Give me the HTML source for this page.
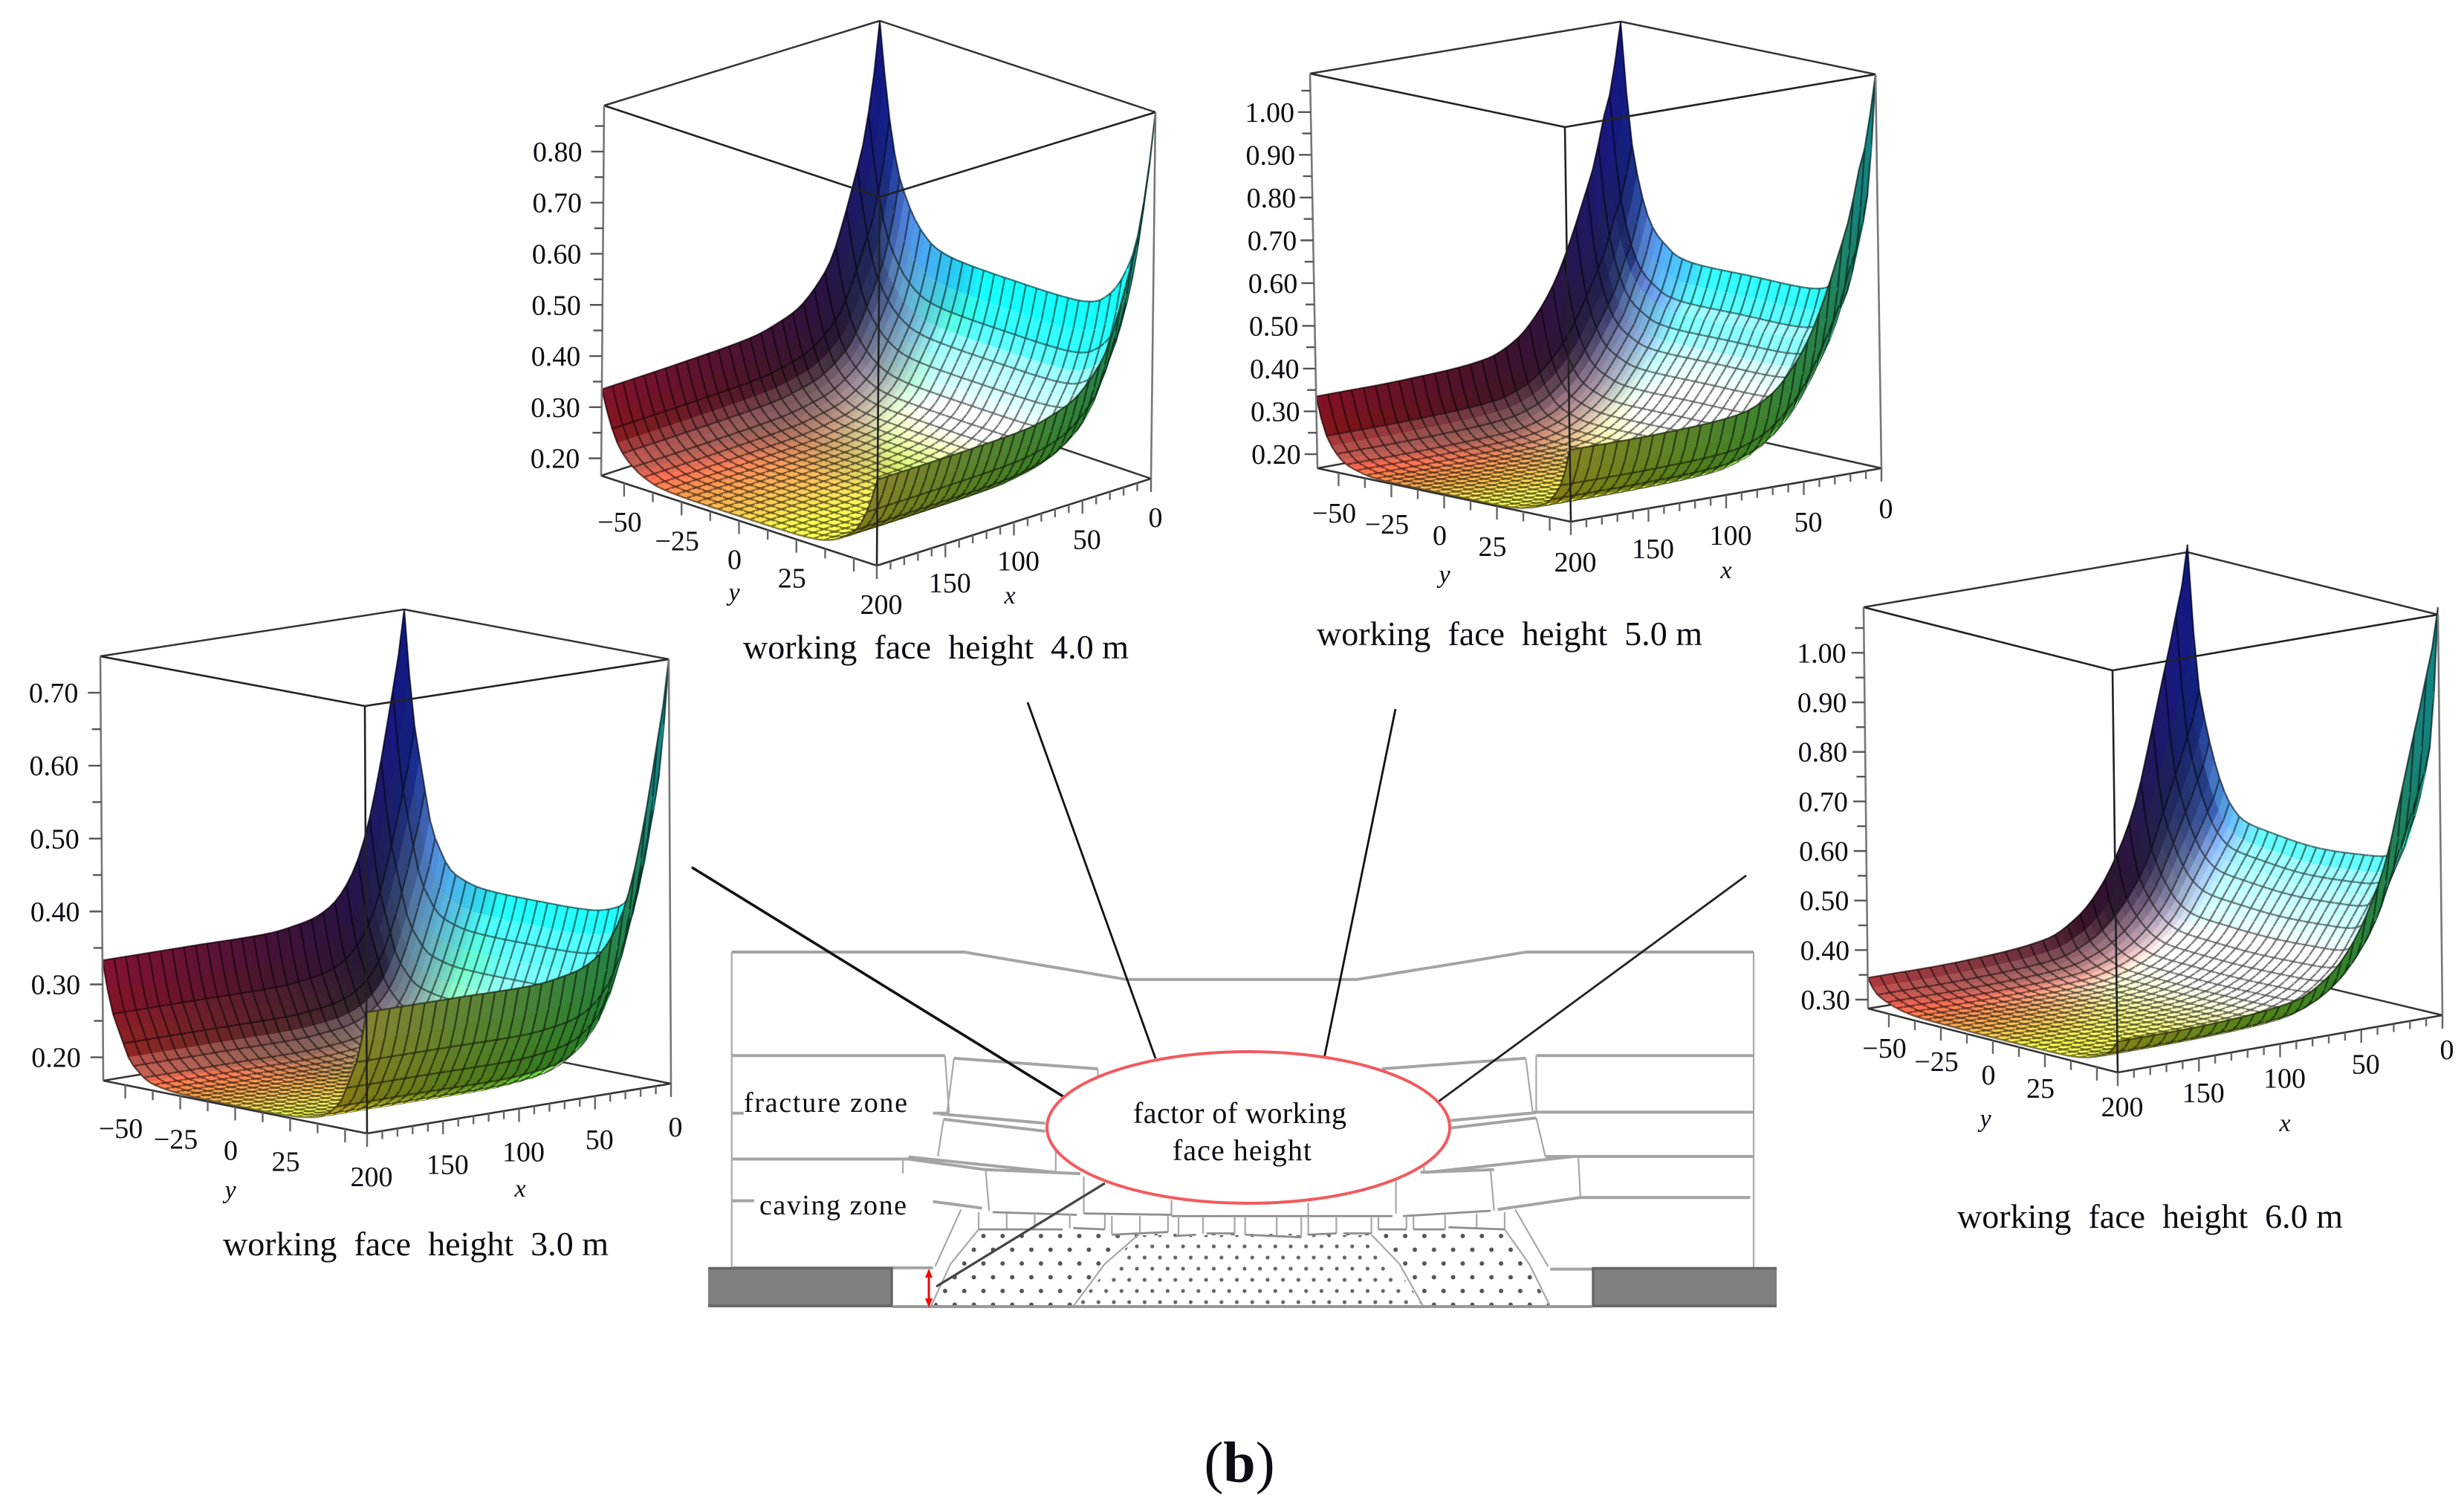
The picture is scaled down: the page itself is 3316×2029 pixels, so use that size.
<!DOCTYPE html>
<html lang="en">
<head>
<meta charset="utf-8">
<title>Working face height surfaces</title>
<style>
html,body{margin:0;padding:0;background:#fff;}
svg{display:block;}
text{font-family:"Liberation Serif",serif;fill:#0c0c14;}
.nss{vector-effect:non-scaling-stroke;fill:none;stroke-linejoin:round;}
.thick{stroke:#a4a4a4;stroke-width:4;}
.thin{stroke:#a8a8a8;stroke-width:2.2;}
.mid{stroke:#8e8e8e;stroke-width:2.8;}
</style>
</head>
<body>
<svg id="figure" xmlns="http://www.w3.org/2000/svg" width="3316" height="2029" viewBox="0 0 3316 2029">
<defs>
<pattern id="dots-outer" patternUnits="userSpaceOnUse" x="1259" y="1663" width="25.8" height="37">
<circle cx="12.9" cy="0" r="3" fill="#555"/><circle cx="12.9" cy="37" r="3" fill="#555"/>
<circle cx="0" cy="18.5" r="3" fill="#555"/><circle cx="25.8" cy="18.5" r="3" fill="#555"/>
</pattern>
<pattern id="dots-inner" patternUnits="userSpaceOnUse" x="1530" y="1662" width="20.7" height="30">
<circle cx="10.35" cy="0" r="2.6" fill="#666"/><circle cx="10.35" cy="30" r="2.6" fill="#666"/>
<circle cx="0" cy="15" r="2.6" fill="#666"/><circle cx="20.7" cy="15" r="2.6" fill="#666"/>
</pattern>
</defs>
<rect width="3316" height="2029" fill="#fff"/>

<g id="plots"></g>

<text x="300" y="1689" font-size="46" textLength="519" lengthAdjust="spacing" xml:space="preserve">working  face  height  3.0 m</text>
<text x="1000" y="886" font-size="46" textLength="519" lengthAdjust="spacing" xml:space="preserve">working  face  height  4.0 m</text>
<text x="1772" y="868" font-size="46" textLength="519" lengthAdjust="spacing" xml:space="preserve">working  face  height  5.0 m</text>
<text x="2634" y="1652" font-size="46" textLength="519" lengthAdjust="spacing" xml:space="preserve">working  face  height  6.0 m</text>

<g id="strata">
<path d="M1317,1658 L2025,1658 L2086,1757 L1256,1757 Z" fill="url(#dots-outer)"/>
<path d="M1533,1662 L1846,1662 L1916,1757 L1447,1757 Z" fill="#fff"/>
<path d="M1533,1662 L1846,1662 L1916,1757 L1447,1757 Z" fill="url(#dots-inner)"/>
<g transform="translate(930,1240) scale(.9439,.357)">
<path class="nss thick" d="M58,115 H390 L620,218 L950,218 L1190,115 H1515"/>
<path class="nss thin" d="M58,115 V1305"/>
<path class="nss thin" d="M1515,115 V1305"/>
<path class="nss thick" d="M58,505 H362 M58,722 H75 M345,722 H368 M58,895 H310 M58,1052 H90 M375,515 L580,555 M355,725 L505,760 M360,745 L505,790 M310,887 L520,945 M310,895 L420,935 M420,935 L555,950 M345,1055 L415,1080 M60,1305 H345"/>
<path class="nss thin" d="M362,505 L368,720 M375,515 L365,720 M360,745 L352,885 M302,890 V950 M420,935 L425,1090 M580,555 V585 M520,840 V945 M560,960 V1100 M685,1050 V1105"/>
<path class="nss thick" d="M1205,505 H1515 M1200,718 H1515 M985,555 L1190,515 M1082,750 L1205,720 M1082,778 L1205,740 M1218,885 H1515 M1050,945 L1260,885 M1040,945 L1145,935 M1268,1040 H1510 M1150,1085 L1268,1040 M1225,1310 H1285"/>
<path class="nss thin" d="M1205,505 V715 M1190,515 L1200,718 M1205,740 L1218,885 M1140,940 L1145,1090 M1265,885 L1268,1038 M880,1060 V1110 M1005,970 V1100 M1045,880 V945"/>
<path class="nss mid" d="M430,1095 L550,1105 M560,1100 L685,1105 M685,1110 L1000,1110 M1015,1110 L1140,1090"/>
<path class="nss thin" d="M410,1095 V1160 M450,1100 V1158 M490,1100 V1158 M540,1100 V1156 M590,1105 V1160 M600,1110 V1180 M640,1110 V1172 M680,1110 V1170 M695,1110 V1185 M730,1112 V1178 M775,1112 V1175 M790,1112 V1180 M835,1112 V1185 M870,1112 V1190 M880,1110 V1180 M920,1112 V1176 M970,1112 V1176 M980,1112 V1160 M1020,1110 V1160 M1030,1110 V1160 M1075,1105 V1160 M1120,1100 V1152 M1160,1095 V1160"/>
<path class="nss mid" d="M410,1160 H530 M545,1155 L590,1160 M600,1180 L680,1170 M690,1185 L720,1180 M735,1175 H775 M790,1180 L870,1190 M880,1180 L920,1175 M930,1175 H970 M980,1160 H1020 M1030,1160 H1075 M1080,1152 L1160,1160"/>
<path class="nss thin" d="M385,1085 L348,1300 M410,1160 L370,1290 L342,1450 M640,1175 L590,1290 L545,1450 M970,1180 L1010,1290 L1045,1455 M1175,1085 L1222,1300 M1160,1160 L1195,1290 L1225,1450"/>
</g>
<rect x="953" y="1705" width="248" height="54" fill="#808080"/>
<rect x="2143" y="1705" width="248" height="54" fill="#808080"/>
<path d="M953,1706.5 H1201 M953,1757 H1201 M2143,1706.5 H2391 M2143,1757 H2391 M1200,1705 V1759 M2144,1705 V1759" stroke="#666" stroke-width="3.5" fill="none"/>
<path d="M1201,1758 H2143" stroke="#999" stroke-width="4" fill="none"/>
<g>
<path d="M1250,1710 V1756" stroke="#f00808" stroke-width="3" fill="none"/>
<path d="M1250,1707 l-5,12 h10 Z M1250,1759 l-5,-12 h10 Z" fill="#f00808"/>
</g>
<line x1="931" y1="1167" x2="1432" y2="1476" stroke="#111" stroke-width="3.6"/>
<line x1="1383" y1="945" x2="1555" y2="1424" stroke="#111" stroke-width="2.8"/>
<line x1="1878" y1="954" x2="1782" y2="1424" stroke="#111" stroke-width="2.8"/>
<line x1="2350" y1="1178" x2="1936" y2="1482" stroke="#222" stroke-width="2.8"/>
<line x1="1487" y1="1592" x2="1260" y2="1731" stroke="#444" stroke-width="3.2"/>
<ellipse cx="1680" cy="1517" rx="271" ry="102" fill="#fff" stroke="#f25a5e" stroke-width="4"/>
<text x="1525" y="1511" font-size="40" textLength="287" lengthAdjust="spacing">factor of working</text>
<text x="1578" y="1561" font-size="40" textLength="187" lengthAdjust="spacing">face height</text>
<text x="1001" y="1496" font-size="38" textLength="220" lengthAdjust="spacing">fracture zone</text>
<text x="1022" y="1634" font-size="38" textLength="198" lengthAdjust="spacing">caving zone</text>
</g>

<text x="1668" y="1994" font-size="78" text-anchor="middle">(<tspan font-weight="bold">b</tspan>)</text>
</svg>

<script>
// Sample positions shared by all surfaces
const xSamples = [0,4,8,12,18,26,34,45,57,70,90,140,200];
const ySamples = [-60,-56,-52,-48,-44,-40,-35,-25,0,25,35,40,44,48,52,56,60];

// Surface height read along y = 0 (one value per xSamples entry)
const zAlongX3m = [.383,.35,.325,.30,.265,.228,.204,.186,.177,.173,.17,.17,.17];
const zAlongX4m = [.465,.41,.37,.338,.306,.266,.233,.21,.194,.186,.179,.176,.175];
const zAlongX5m = [.553,.505,.465,.44,.39,.345,.303,.255,.22,.195,.178,.171,.17];
const zAlongX6m = [.56,.53,.51,.489,.46,.42,.383,.35,.325,.308,.295,.289,.288];

// Surface height read along x = 200 (one value per ySamples entry)
const zAcrossY3m = [.333,.269,.235,.204,.19,.18,.175,.171,.17,.171,.175,.18,.19,.204,.235,.269,.333];
const zAcrossY4m = [.335,.272,.231,.21,.196,.187,.18,.176,.175,.176,.18,.187,.196,.21,.231,.272,.335];
const zAcrossY5m = [.335,.255,.218,.196,.185,.179,.173,.17,.17,.17,.173,.179,.185,.196,.218,.255,.335];
const zAcrossY6m = [.344,.317,.307,.30,.295,.292,.29,.289,.288,.289,.29,.292,.295,.30,.307,.317,.344];

// Axis ranges and tick labels
const zTicks3m = [0.20,0.30,0.40,0.50,0.60,0.70];
const zTicks4m = [0.20,0.30,0.40,0.50,0.60,0.70,0.80];
const zTicks5m = [0.20,0.30,0.40,0.50,0.60,0.70,0.80,0.90,1.00];
const zTicks6m = [0.30,0.40,0.50,0.60,0.70,0.80,0.90,1.00];
const zRange3m = [.168,.75];
const zRange4m = [.166,.89];
const zRange5m = [.167,1.09];
const zRange6m = [.282,1.092];
const xTickValues = [0,50,100,150,200];
const yTickValues = [-50,-25,0,25];

const NS = 'http://www.w3.org/2000/svg';
const root = document.getElementById('plots');

function mk(tag, attrs, parent) {
  const e = document.createElementNS(NS, tag);
  for (const k in attrs) e.setAttribute(k, attrs[k]);
  parent.appendChild(e);
  return e;
}

// Layout of each panel: projected box corners, label offsets, highlight shape
const panels = [
  { id:'3m', along:zAlongX3m, across:zAcrossY3m, zr:zRange3m, zt:zTicks3m, base:0, uc:.14, uw:.15, ws:.5, vd:.55,
    tB:[544,820], tL:[135,883], tR:[900,887], tF:[491,950],
    bB:[545,1387], bL:[139,1454], bR:[903,1458], bF:[494,1525],
    gap:30, dy:58, xt:[700,1610], yt:[310,1612] },
  { id:'4m', along:zAlongX4m, across:zAcrossY4m, zr:zRange4m, zt:zTicks4m, base:0, uc:.16, uw:.2, ws:.5, vd:.45,
    tB:[1184,28], tL:[813,142], tR:[1555,151], tF:[1184,265],
    bB:[1180,519], bL:[809,640], bR:[1549,644], bF:[1180,761],
    gap:29, dy:52, xt:[1359,812], yt:[988,808] },
  { id:'5m', along:zAlongX5m, across:zAcrossY5m, zr:zRange5m, zt:zTicks5m, base:0, uc:.18, uw:.24, ws:.52, vd:.42,
    tB:[2181,29], tL:[1763,99], tR:[2524,100], tF:[2106,171],
    bB:[2188,554], bL:[1773,630], bR:[2532,630], bF:[2114,702],
    gap:22, dy:54, xt:[2323,778], yt:[1944,784] },
  { id:'6m', along:zAlongX6m, across:zAcrossY6m, zr:zRange6m, zt:zTicks6m, base:.257, uc:.24, uw:.36, ws:.55, vd:.25,
    tB:[2944,743], tL:[2508,817], tR:[3281,827], tF:[2843,902],
    bB:[2952,1286], bL:[2514,1357], bR:[3287,1366], bF:[2850,1443],
    gap:24, dy:46, xt:[3075,1522], yt:[2672,1516] }
];

// Smooth reading between the sampled heights (Hermite on the log of height)
function smooth(samples, vals, v, base) {
  let k = 0;
  while (k < samples.length - 2 && v > samples[k + 1]) k++;
  const L = vals.map(function (q) { return Math.log(Math.max(q - base, 1e-4)); });
  const sl = function (m) {
    const a = Math.max(m - 1, 0), b = Math.min(m + 1, samples.length - 1);
    return (L[b] - L[a]) / (samples[b] - samples[a]);
  };
  const h = samples[k + 1] - samples[k];
  const t = (v - samples[k]) / h;
  const t2 = t * t, t3 = t2 * t;
  return (2*t3 - 3*t2 + 1) * L[k] + (t3 - 2*t2 + t) * h * sl(k) +
         (-2*t3 + 3*t2) * L[k + 1] + (t3 - t2) * h * sl(k + 1);
}

function norm(v) {
  const m = Math.hypot(v[0], v[1], v[2]);
  return [v[0]/m, v[1]/m, v[2]/m];
}
function sstep(a, b, v) {
  const q = Math.max(0, Math.min(1, (v - a) / (b - a)));
  return q * q * (3 - 2 * q);
}
const VIEW = norm([1, 1, .75]);
const LIGHT = norm([.8, -.55, .3]);

function clamp255(v) { return Math.max(0, Math.min(255, Math.round(v * 255))); }

function drawPanel(p) {
  const g = mk('g', {}, root);
  
  

  const zMin = p.zr[0], zMax = p.zr[1];
  const xAxis = function (x) { return x / 200; };
  const yAxis = function (y) { return (y + 60) / 120; };
  const zAxis = function (z) { return (z - zMin) / (zMax - zMin); };

  function project(x, y, z) {
    const u = xAxis(x), v = yAxis(y), w = zAxis(z);
    const bi = function (B, L, R, F, c) {
      return (1-u)*(1-v)*B[c] + u*(1-v)*L[c] + (1-u)*v*R[c] + u*v*F[c];
    };
    const out = [];
    for (let c = 0; c < 2; c++) {
      out[c] = bi(p.bB, p.bL, p.bR, p.bF, c) * (1 - w) + bi(p.tB, p.tL, p.tR, p.tF, c) * w;
    }
    return out;
  }

  function edge(a, b, stroke, width, name) {
    const l = mk('line', { x1:a[0], y1:a[1], x2:b[0], y2:b[1], stroke:stroke, 'stroke-width':width }, g);
    
    
  }

  // back edges of the box, behind the surface
  edge(p.bL, p.bB, '#333', 2.5, 'box-edge-back-left');
  edge(p.bR, p.bB, '#333', 2.5, 'box-edge-back-right');
  edge(p.tL, p.tB, '#333', 2.5, 'box-edge-top-back-left');
  edge(p.tR, p.tB, '#333', 2.5, 'box-edge-top-back-right');

  // surface mesh
  const N = 52;
  const z0 = p.along[p.along.length - 1];
  const lx = [], ly = [];
  for (let i = 0; i <= N; i++) lx[i] = smooth(xSamples, p.along, 200 * i / N, p.base);
  for (let j = 0; j <= N; j++) ly[j] = smooth(ySamples, p.across, -60 + 120 * j / N, p.base);
  const Z = [], P = [];
  for (let i = 0; i <= N; i++) {
    Z[i] = []; P[i] = [];
    for (let j = 0; j <= N; j++) {
      Z[i][j] = p.base + Math.exp(lx[i] + ly[j]) / (z0 - p.base);
      P[i][j] = project(200 * i / N, -60 + 120 * j / N, Z[i][j]);
    }
  }
  const surface = mk('g', {}, g);
  
  

  for (let i = 0; i < N; i++) {
    for (let j = 0; j < N; j++) {
      const zc = (Z[i][j] + Z[i+1][j] + Z[i][j+1] + Z[i+1][j+1]) / 4;
      const dcdu = ((Z[i+1][j] + Z[i+1][j+1] - Z[i][j] - Z[i][j+1]) / 2) / (zMax - zMin) * N;
      const dcdv = ((Z[i][j+1] + Z[i+1][j+1] - Z[i][j] - Z[i+1][j]) / 2) / (zMax - zMin) * N;
      let n = norm([-dcdu, -dcdv, 1]);
      const ndv = n[0]*VIEW[0] + n[1]*VIEW[1] + n[2]*VIEW[2];
      const front = ndv >= 0;
      if (!front) n = [-n[0], -n[1], -n[2]];
      const ndl = Math.max(0, n[0]*LIGHT[0] + n[1]*LIGHT[1] + n[2]*LIGHT[2]);
      const u = (i + .5) / N, v = (j + .5) / N;
      const faceFade = front ? sstep(.02, .3, ndv) : 0;
      const wallX = sstep(.5, 2.5, Math.abs(dcdu));
      const keep = (1 - sstep(.3, 3.5, Math.abs(dcdu))) *
                   (1 - sstep(.5, 2, dcdv < 0 ? -dcdv : 0)) * faceFade;
      const bump = Math.exp(-Math.pow((u - p.uc) / p.uw, 2));
      const steelWash = .24 * (1 - sstep(.1, .4, v)) * sstep(.03, .12, v) * sstep(1, 3, Math.abs(dcdu)) * faceFade;
      const white = (.25 + p.ws * bump * sstep(0, p.vd, v)) * keep + steelWash;
      const br = .45 +
        1.9 * Math.min(ndl, .3) * sstep(0, .2, v) * faceFade +
        1.5 * Math.max(0, ndl - .3) * sstep(.05, .55, v) * faceFade;
      const baseR = u;
      const baseG = Math.pow(v, 1 - .4 * wallX * (front ? 1 : 0));
      const baseB = Math.min(1, Math.max(0, zAxis(zc)) * 1.25 + .12 * (1 - u));
      const r = clamp255(baseR * br + white + .07);
      const gr = clamp255(baseG * br + white + .07);
      const b = clamp255(baseB * br + white + .05);
      const col = 'rgb(' + r + ',' + gr + ',' + b + ')';
      const a = P[i][j], c = P[i+1][j], d = P[i+1][j+1], e = P[i][j+1];
      const poly = mk('polygon', {
        points: a[0].toFixed(1)+','+a[1].toFixed(1)+' '+c[0].toFixed(1)+','+c[1].toFixed(1)+' '+
                d[0].toFixed(1)+','+d[1].toFixed(1)+' '+e[0].toFixed(1)+','+e[1].toFixed(1),
        fill: col, stroke: col, 'stroke-width': .9
      }, surface);
      
      

      let dPath = '';
      const seg = function (s, q) {
        dPath += 'M' + s[0].toFixed(1) + ',' + s[1].toFixed(1) + 'L' + q[0].toFixed(1) + ',' + q[1].toFixed(1);
      };
      if (i % 2 === 0) seg(a, e);
      if (j % 2 === 0) seg(a, c);
      if (i === N - 1) seg(c, d);
      if (j === N - 1) seg(e, d);
      if (dPath) {
        const ln = mk('path', { d: dPath, stroke: 'rgba(0,0,0,.5)', 'stroke-width': 2.4, fill: 'none' }, surface);
        
        
      }
    }
  }

  // front edges of the box, over the surface
  edge(p.tL, p.tF, '#222', 2.6, 'box-edge-top-front-left');
  edge(p.tR, p.tF, '#222', 2.6, 'box-edge-top-front-right');
  edge(p.tF, p.bF, '#222', 2.6, 'box-edge-front-vertical');
  edge(p.tL, p.bL, '#777', 2.6, 'box-edge-left-vertical');
  edge(p.tR, p.bR, '#777', 2.6, 'box-edge-right-vertical');
  edge(p.bL, p.bF, '#333', 2.6, 'box-edge-front-left');
  edge(p.bR, p.bF, '#333', 2.6, 'box-edge-front-right');

  // z axis ticks on the left vertical edge
  for (let t = zMin - (zMin % .05) + .05; t < zMax; t += .05) {
    const zv = Math.round(t * 100) / 100;
    if (zv <= zMin) continue;
    const q = project(200, -60, zv);
    const major = Math.round(zv * 100) % 10 === 0;
    edge(q, [q[0] - (major ? 17 : 12), q[1]], '#555', 2.4, 'z-tick');
  }
  p.zt.forEach(function (v) {
    const q = project(200, -60, v);
    const t = mk('text', { x: q[0] - p.gap, y: q[1] + 13, 'font-size': 38, 'text-anchor': 'end' }, g);
    
    
    t.textContent = v.toFixed(2);
  });

  // y axis ticks on the front-left edge
  for (let yv = -50; yv < 60; yv += 12.5) {
    const q = project(200, yv, zMin);
    const major = yv % 25 === 0;
    edge(q, [q[0], q[1] + (major ? 18 : 13)], '#666', 2.4, 'y-tick');
  }
  yTickValues.forEach(function (v) {
    const q = project(200, v, zMin);
    const t = mk('text', { x: q[0] - 6, y: q[1] + p.dy + 13, 'font-size': 38, 'text-anchor': 'middle' }, g);
    
    
    t.textContent = v < 0 ? '\u2212' + Math.abs(v) : String(v);
  });

  // x axis ticks on the front-right edge
  for (let xv = 0; xv <= 200; xv += 10) {
    const q = project(xv, 60, zMin);
    const major = xv % 50 === 0;
    edge(q, [q[0], q[1] + (major ? 18 : 11)], '#666', 2.4, 'x-tick');
  }
  xTickValues.forEach(function (v) {
    const q = project(v, 60, zMin);
    const t = mk('text', { x: q[0] + 6, y: q[1] + p.dy + 13, 'font-size': 38, 'text-anchor': 'middle' }, g);
    
    
    t.textContent = String(v);
  });

  const tx = mk('text', { x: p.xt[0], y: p.xt[1], 'font-size': 34, 'font-style': 'italic', 'text-anchor': 'middle' }, g);
  
  
  tx.textContent = 'x';
  const ty = mk('text', { x: p.yt[0], y: p.yt[1], 'font-size': 34, 'font-style': 'italic', 'text-anchor': 'middle' }, g);
  
  
  ty.textContent = 'y';
}

panels.forEach(drawPanel);
</script>
</body>
</html>
